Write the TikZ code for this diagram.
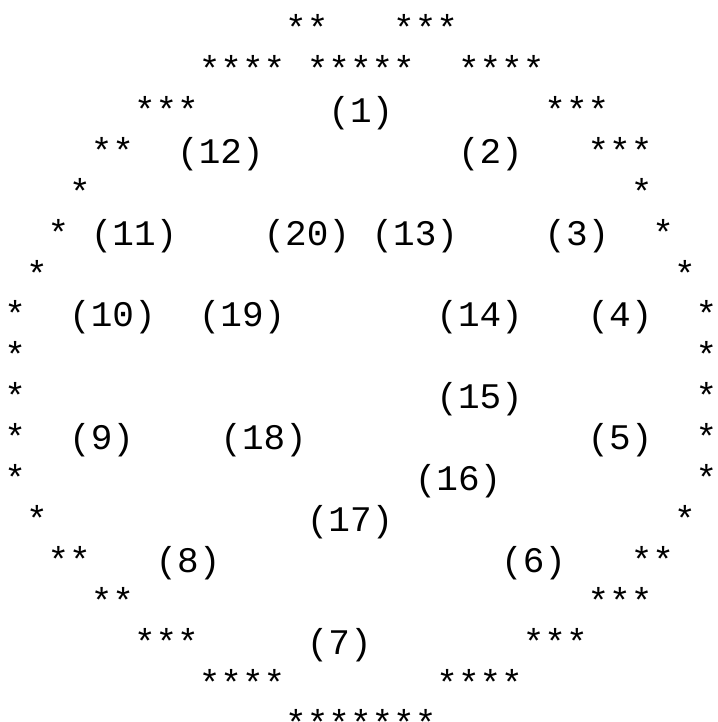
\documentclass[tikz,border=0pt]{standalone}
\usepackage{fontspec}
\setmonofont{Liberation Mono}
\begin{document}
\begin{tikzpicture}[x=10.8pt,y=-20.45pt,
  txt/.style={font=\ttfamily\fontsize{18pt}{20.45pt}\selectfont,inner sep=0pt,anchor=base west},
  lbl/.style={txt}]
  \useasboundingbox (0pt,0pt) rectangle (358.5pt,-361pt);
  \begin{scope}[shift={(2pt,-20.3pt)}]
  % outline of stars, top half
  \node[txt](s0a) at (13,0){**}; \node[txt](s0b) at (18,0){***};
  \node[txt](s1a) at (9,1){****}; \node[txt](s1b) at (14,1){*****}; \node[txt](s1c) at (21,1){****};
  \node[txt](s2a) at (6,2){***}; \node[txt](s2b) at (25,2){***};
  \node[txt](s3a) at (4,3){**}; \node[txt](s3b) at (27,3){***};
  \node[txt](s4a) at (3,4){*}; \node[txt](s4b) at (29,4){*};
  \node[txt](s5a) at (2,5){*}; \node[txt](s5b) at (30,5){*};
  \node[txt](s6a) at (1,6){*}; \node[txt](s6b) at (31,6){*};
  \node[txt](s7a) at (0,7){*}; \node[txt](s7b) at (32,7){*};
  \node[txt](s8a) at (0,8){*}; \node[txt](s8b) at (32,8){*};
  \node[txt](s9a) at (0,9){*}; \node[txt](s9b) at (32,9){*};
  % bottom half
  \node[txt](s10a) at (0,10){*}; \node[txt](s10b) at (32,10){*};
  \node[txt](s11a) at (0,11){*}; \node[txt](s11b) at (32,11){*};
  \node[txt](s12a) at (1,12){*}; \node[txt](s12b) at (31,12){*};
  \node[txt](s13a) at (2,13){**}; \node[txt](s13b) at (29,13){**};
  \node[txt](s14a) at (4,14){**}; \node[txt](s14b) at (27,14){***};
  \node[txt](s15a) at (6,15){***}; \node[txt](s15b) at (24,15){***};
  \node[txt](s16a) at (9,16){****}; \node[txt](s16b) at (20,16){****};
  \node[txt](s17) at (13,17){*******};
  % region numbers
  \node[lbl](r1) at (15,2){(1)};
  \node[lbl](r12) at (8,3){(12)}; \node[lbl](r2) at (21,3){(2)};
  \node[lbl](r11) at (4,5){(11)}; \node[lbl](r20) at (12,5){(20)};
  \node[lbl](r13) at (17,5){(13)}; \node[lbl](r3) at (25,5){(3)};
  \node[lbl](r10) at (3,7){(10)}; \node[lbl](r19) at (9,7){(19)};
  \node[lbl](r14) at (20,7){(14)}; \node[lbl](r4) at (27,7){(4)};
  \node[lbl](r15) at (20,9){(15)};
  \node[lbl](r9) at (3,10){(9)}; \node[lbl](r18) at (10,10){(18)}; \node[lbl](r5) at (27,10){(5)};
  \node[lbl](r16) at (19,11){(16)};
  \node[lbl](r17) at (14,12){(17)};
  \node[lbl](r8) at (7,13){(8)}; \node[lbl](r6) at (23,13){(6)};
  \node[lbl](r7) at (14,15){(7)};
  \end{scope}
\end{tikzpicture}
\end{document}
